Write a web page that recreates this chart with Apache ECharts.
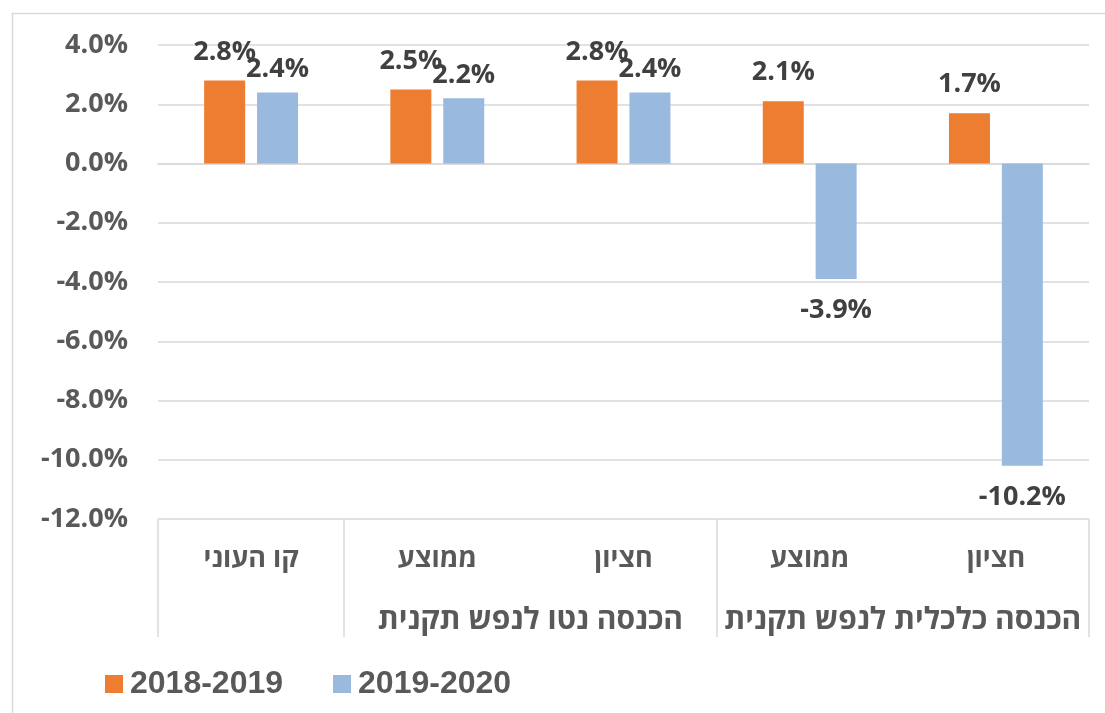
<!DOCTYPE html>
<html>
<head>
<meta charset="utf-8">
<script src="https://cdn.jsdelivr.net/npm/echarts@6/dist/echarts.min.js"></script>
<style>
html,body{margin:0;padding:0;background:#fff;}
#c{width:1105px;height:713px;}
</style>
</head>
<body>
<div id="c"></div>
<script>
const categories = ['קו העוני', 'ממוצע', 'חציון', 'ממוצע', 'חציון'];
const groupLabels = ['הכנסה נטו לנפש תקנית', 'הכנסה כלכלית לנפש תקנית'];
const seriesNames = ['2018-2019', '2019-2020'];
const values2018_2019 = [2.8, 2.5, 2.8, 2.1, 1.7];
const values2019_2020 = [2.4, 2.2, 2.4, -3.9, -10.2];
const yTicks = [-12, -10, -8, -6, -4, -2, 0, 2, 4];

const chart = echarts.init(document.getElementById('c'));
const FONT = "'Open Sans', 'DejaVu Sans', sans-serif";

function mkData(arr, posDist, negDist) {
  return arr.map(v => ({
    value: v,
    label: { position: v < 0 ? 'bottom' : 'top', distance: v < 0 ? negDist : posDist }
  }));
}
const labelStyle = {
  show: true,
  formatter: p => p.value.toFixed(1) + '%',
  fontFamily: FONT, fontWeight: 'bold', fontSize: 27, color: '#404040'
};

chart.setOption({
  animation: false,
  backgroundColor: '#fff',
  graphic: [{
    type: 'rect', left: 10, top: 11,
    shape: { width: 1120, height: 730 },
    style: { fill: 'none', stroke: '#d9d9d9', lineWidth: 1.5 },
    silent: true, z: -1
  }],
  grid: { left: 158, right: 16, top: 45, bottom: 194 },
  legend: {
    left: 100, top: 663,
    itemWidth: 18, itemHeight: 18, itemGap: 50,
    icon: 'rect',
    textStyle: { fontFamily: "'Liberation Sans', Arial, sans-serif", fontWeight: 'bold', fontSize: 32, color: '#595959', padding: [0,0,0,2] },
    data: seriesNames
  },
  xAxis: [{
    type: 'category',
    data: categories,
    axisLine: { show: true, lineStyle: { color: '#d9d9d9', width: 1.5 } },
    axisTick: { show: false },
    axisLabel: { fontFamily: FONT, fontWeight: 'bold', fontSize: 27, color: '#595959', margin: 27 }
  }, {
    type: 'value',
    position: 'bottom',
    min: 0, max: 5, interval: 1,
    splitLine: { show: false },
    axisLine: { show: false },
    axisTick: { show: true, customValues: [0, 1, 3, 5], length: 118, lineStyle: { color: '#d9d9d9', width: 1.5 } },
    axisLabel: {
      customValues: [2, 4],
      formatter: v => v === 2 ? groupLabels[0] : (v === 4 ? groupLabels[1] : ''),
      fontFamily: FONT, fontWeight: 'bold', fontSize: 30, color: '#595959', margin: 86
    }
  }],
  yAxis: {
    type: 'value',
    min: yTicks[0], max: yTicks[yTicks.length - 1], interval: 2,
    axisLine: { show: false },
    axisTick: { show: false },
    splitLine: { lineStyle: { color: '#d9d9d9', width: 1.5 } },
    axisLabel: {
      formatter: v => v.toFixed(1) + '%',
      fontFamily: FONT, fontWeight: 'bold', fontSize: 27, color: '#595959', margin: 30
    }
  },
  series: [{
    name: seriesNames[0],
    type: 'bar',
    barWidth: 41,
    barGap: '29%',
    itemStyle: { color: '#ED7D31' },
    label: labelStyle,
    data: mkData(values2018_2019, 15, 17)
  }, {
    name: seriesNames[1],
    type: 'bar',
    barWidth: 41,
    barGap: '29%',
    itemStyle: { color: '#9AB9DF' },
    label: labelStyle,
    data: mkData(values2019_2020, 10, 18)
  }]
});
</script>
</body>
</html>
